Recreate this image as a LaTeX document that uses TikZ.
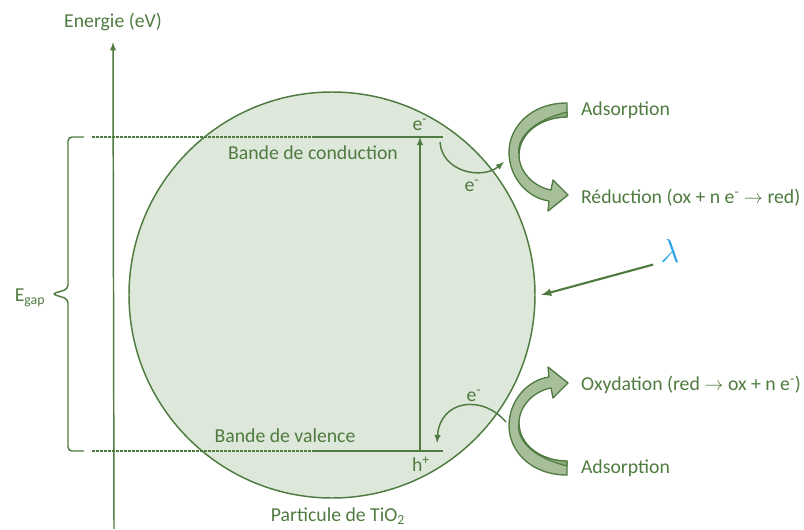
\documentclass[tikz,border=0pt]{standalone}
\usepackage{amsmath}
\usepackage{fontspec}
\setmainfont{Carlito}
\usepackage{tikz}
\usetikzlibrary{arrows}
\usetikzlibrary{positioning}
\definecolor{leaf}{HTML}{4F7B40}
\definecolor{leaflight}{HTML}{DDE7DA}
\definecolor{leafmid}{HTML}{A6BE99}
\definecolor{leafdark}{HTML}{8AA97B}
\definecolor{sky}{HTML}{2AA6E6}

\begin{document}
\begin{tikzpicture}[x=0.75pt,y=-0.75pt,color=leaf]
    \tikzstyle{every node}=[text=leaf,font=\fontsize{14.8}{17}\selectfont,inner sep=1pt]
    \tikzstyle{every path}=[line width=1.1pt]
    \tikzstyle{guide}=[dash pattern=on 2pt off 1pt,line width=0.8pt]
    \tikzstyle{ribbon}=[fill=leafmid,draw=leaf,line width=1pt,line join=round]
    \tikzstyle{ribbonface}=[fill=leafdark,draw=leaf,line width=0.8pt,line join=round]

    \useasboundingbox (0,0) rectangle (804,529);

    \node[circle,fill=leaflight,draw=leaf,minimum size=304.5pt,inner sep=0pt] (particle) at (332,295) {} ;
    \node (particule) at (338,516) {Particule de TiO\textsubscript{2}} ;

    % energy axis
    \node (energie) at (113,22) {Energie (eV)} ;
    \coordinate (origin) at (114,529) ;
    \draw[-latex] (origin) -- ([yshift=-7pt]energie.south) ;

    % bands
    \coordinate (cbL) at (92,137) ; \coordinate (cbM) at (313,137) ; \coordinate (cbR) at (443,137) ;
    \coordinate (vbL) at (92,451) ; \coordinate (vbM) at (313,451) ; \coordinate (vbR) at (443,451) ;
    \draw[guide] (cbL) -- (cbM) ;
    \draw (cbM) -- (cbR) ;
    \draw[guide] (vbL) -- (vbM) ;
    \draw (vbM) -- (vbR) ;
    \node (conduction) at (313,153) {Bande de conduction} ;
    \node (valence) at (285,436) {Bande de valence} ;

    \coordinate (gapbot) at (420,451) ;
    \coordinate (gaptop) at (420,137) ;
    \draw[-latex] (gapbot) -- (gaptop) ;
    \node (ecb) at (420,125) {e\textsuperscript{-}} ;
    \node (hvb) at (421,464) {h\textsuperscript{+}} ;

    % gap brace
    \node (egap) at (30,298) {E\textsubscript{gap}} ;
    \draw[rounded corners=3pt] (84,137) -- (68,137) -- (68,289) -- (52,294) -- (68,299) -- (68,451) -- (84,451) ;

    % electron transfer
    \draw[-latex] (440,142) .. controls (442,172) and (482,180) .. (504,162) ;
    \node (ecoll) at (472,186) {e\textsuperscript{-}} ;
    \draw[-latex] (506,422) .. controls (482,394) and (440,400) .. (437,443) ;
    \node (eval) at (474,396) {e\textsuperscript{-}} ;

    % adsorption / reaction arrows
    \newcommand{\ribbonarrow}{%
      \draw[ribbon] (567,103) .. controls (530,103) and (509,128) .. (509,152)
        .. controls (509,178) and (528,198) .. (549,201) -- (548,211) -- (568,195)
        -- (553,180) -- (551,190) .. controls (534,187) and (519,172) .. (519,155)
        .. controls (519,133) and (541,117) .. (567,117) -- cycle ;
      \draw[ribbonface] (567,117) .. controls (541,117) and (519,133) .. (519,155)
        .. controls (516,140) and (530,121) .. (567,112) -- cycle ;}
    \ribbonarrow
    \begin{scope}[shift={(0,578)},yscale=-1]
      \ribbonarrow
    \end{scope}

    \node[anchor=west] (adstop) at (579,110) {Adsorption} ;
    \node[anchor=west] (reduction) at (579,198) {Réduction (ox + n e\textsuperscript{-} $\rightarrow$ red)} ;
    \node[anchor=west] (oxydation) at (579,385) {Oxydation (red $\rightarrow$ ox + n e\textsuperscript{-})} ;
    \node[anchor=west] (adsbot) at (579,468) {Adsorption} ;

    % light
    \node[text=sky,font=\fontsize{30}{30}\selectfont] (lambda) at (670,251) {$\lambda$} ;
    \draw[-latex,line width=1.6pt] ([xshift=-4pt]lambda.south west) -- ([xshift=4pt]particle.east) ;

\end{tikzpicture}
\end{document}
